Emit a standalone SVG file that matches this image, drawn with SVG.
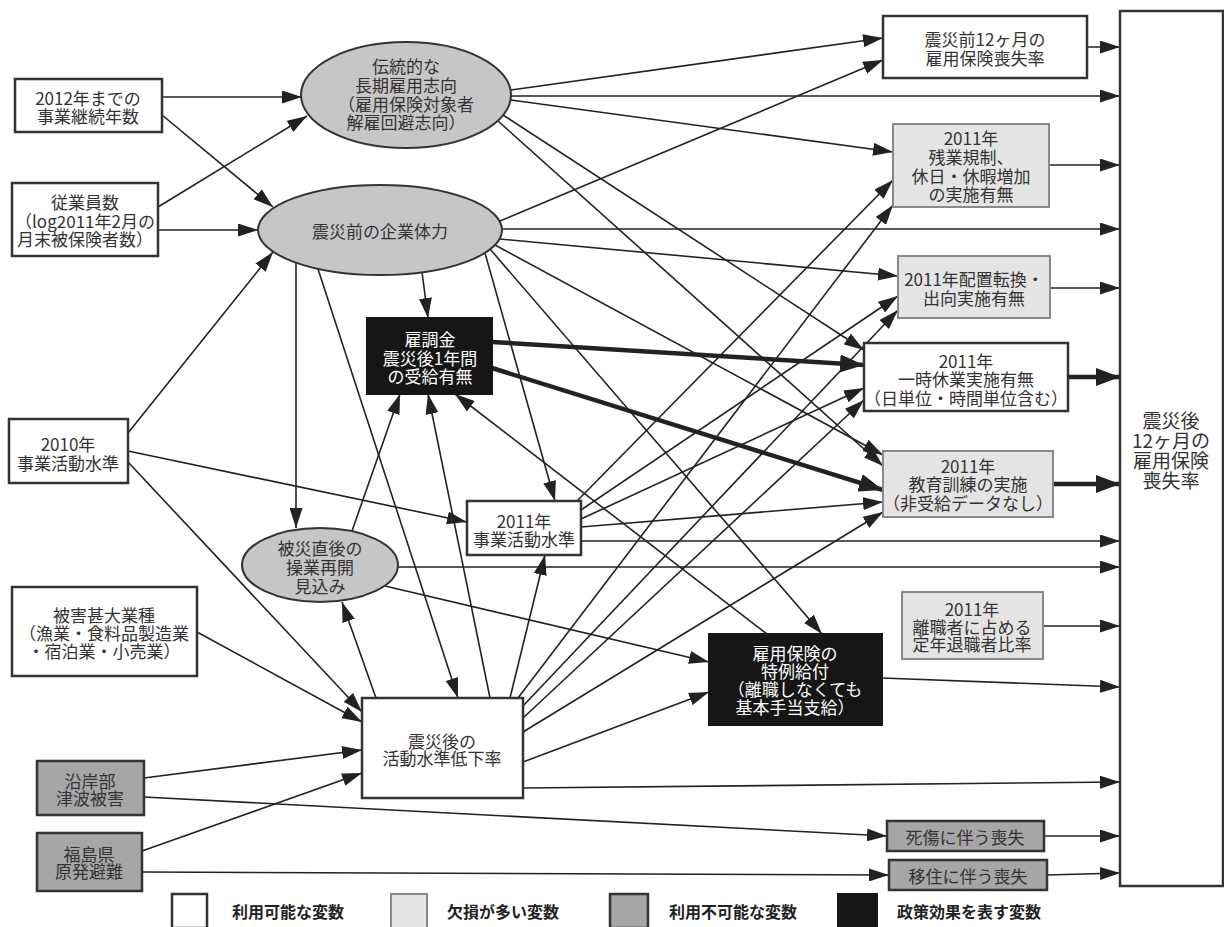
<svg xmlns="http://www.w3.org/2000/svg" width="1224" height="927" viewBox="0 0 1224 927">
<defs>
<marker id="a" markerUnits="userSpaceOnUse" markerWidth="20" markerHeight="13" refX="20" refY="6.5" orient="auto"><path d="M0,0 L20,6.5 L0,13 z" fill="#222"/></marker>
<marker id="b" markerUnits="userSpaceOnUse" markerWidth="24" markerHeight="18" refX="24" refY="9" orient="auto"><path d="M0,0 L24,9 L0,18 z" fill="#222"/></marker>
<style>
text{font-family:"Noto Sans CJK JP","Noto Sans CJK SC",sans-serif;font-size:17px;fill:#333;text-anchor:middle;dominant-baseline:central}
.w{fill:#fff;stroke:#333;stroke-width:2.5}
.l{fill:#e4e4e4;stroke:#8a8a8a;stroke-width:2}
.m{fill:#a6a6a6;stroke:#333;stroke-width:2.5}
.k{fill:#161616;stroke:#161616;stroke-width:2}
.o{fill:#c6c6c6;stroke:#333;stroke-width:2}
text.wt{fill:#fff}
.e line{stroke:#222;stroke-width:1.6;marker-end:url(#a)}
.e line.t{stroke-width:4.5;marker-end:url(#b)}
text.lg{font-weight:bold;font-size:16px;text-anchor:start;fill:#222}
</style>
</defs>
<rect width="1224" height="927" fill="#fff"/>

<g class="e" id="connectors">
<line x1="162" y1="97" x2="302" y2="97"/>
<line x1="162" y1="115" x2="273" y2="207"/>
<line x1="158" y1="207" x2="307" y2="116"/>
<line x1="158" y1="230" x2="258" y2="230"/>
<line x1="128" y1="433" x2="273" y2="252"/>
<line x1="128" y1="451" x2="467" y2="522"/>
<line x1="128" y1="462" x2="362" y2="712"/>
<line x1="197" y1="632" x2="362" y2="722"/>
<line x1="144" y1="778" x2="362" y2="750"/>
<line x1="142" y1="851" x2="362" y2="773"/>
<line x1="144" y1="797" x2="887" y2="836"/>
<line x1="142" y1="872" x2="889" y2="875"/>
<line x1="511" y1="90" x2="883" y2="38"/>
<line x1="511" y1="96" x2="1120" y2="96"/>
<line x1="511" y1="100" x2="893" y2="152"/>
<line x1="503" y1="115" x2="864" y2="350"/>
<line x1="498" y1="121" x2="883" y2="466"/>
<line x1="500" y1="221" x2="883" y2="60"/>
<line x1="502" y1="229" x2="1120" y2="229"/>
<line x1="500" y1="239" x2="898" y2="276"/>
<line x1="495" y1="245" x2="883" y2="455"/>
<line x1="490" y1="249" x2="822" y2="634"/>
<line x1="485" y1="253" x2="555" y2="501"/>
<line x1="422" y1="272" x2="428" y2="318"/>
<line x1="296" y1="263" x2="296" y2="528"/>
<line x1="318" y1="269" x2="458" y2="698"/>
<line x1="352" y1="531" x2="400" y2="394"/>
<line x1="398" y1="567" x2="1120" y2="567"/>
<line x1="385" y1="586" x2="709" y2="662"/>
<line x1="376" y1="698" x2="342" y2="602"/>
<line x1="490" y1="698" x2="428" y2="394"/>
<line x1="510" y1="698" x2="545" y2="555"/>
<line x1="518" y1="698" x2="893" y2="205"/>
<line x1="523" y1="706" x2="898" y2="310"/>
<line x1="523" y1="718" x2="864" y2="400"/>
<line x1="523" y1="732" x2="883" y2="512"/>
<line x1="523" y1="762" x2="709" y2="692"/>
<line x1="523" y1="788" x2="1120" y2="782"/>
<line x1="577" y1="501" x2="893" y2="180"/>
<line x1="581" y1="510" x2="898" y2="296"/>
<line x1="581" y1="519" x2="864" y2="388"/>
<line x1="581" y1="527" x2="883" y2="502"/>
<line x1="581" y1="541" x2="1120" y2="541"/>
<line x1="767" y1="634" x2="455" y2="394"/>
<line x1="882" y1="678" x2="1120" y2="687"/>
<line x1="1087" y1="47" x2="1120" y2="47"/>
<line x1="1049" y1="165" x2="1120" y2="165"/>
<line x1="1050" y1="288" x2="1120" y2="288"/>
<line x1="1043" y1="626" x2="1120" y2="626"/>
<line x1="1044" y1="836" x2="1120" y2="836"/>
<line x1="1047" y1="875" x2="1120" y2="873"/>
<line class="t" x1="492" y1="342" x2="864" y2="365"/>
<line class="t" x1="492" y1="368" x2="883" y2="490"/>
<line class="t" x1="1068" y1="377" x2="1120" y2="377"/>
<line class="t" x1="1053" y1="484" x2="1120" y2="484"/>
</g>

<g id="n_keizoku"><rect class="w" x="15" y="79" width="147" height="53"/><text><tspan x="88" y="97">2012年までの</tspan><tspan x="88" y="115">事業継続年数</tspan></text></g>
<g id="n_jugyoin"><rect class="w" x="12" y="183" width="146" height="73"/><text><tspan x="85" y="201">従業員数</tspan><tspan x="85" y="220">（log2011年2月の</tspan><tspan x="85" y="238">月末被保険者数）</tspan></text></g>
<g id="n_dentou"><ellipse class="o" cx="406" cy="95" rx="105" ry="53"/><text><tspan x="406" y="65">伝統的な</tspan><tspan x="406" y="84">長期雇用志向</tspan><tspan x="406" y="103">（雇用保険対象者</tspan><tspan x="406" y="121">解雇回避志向）</tspan></text></g>
<g id="n_tairyoku"><ellipse class="o" cx="380" cy="230" rx="122" ry="45"/><text x="380" y="230">震災前の企業体力</text></g>
<g id="n_mae12"><rect class="w" x="883" y="16" width="204" height="62"/><text><tspan x="985" y="38">震災前12ヶ月の</tspan><tspan x="985" y="57">雇用保険喪失率</tspan></text></g>
<g id="n_target"><rect class="w" x="1120" y="11" width="103" height="875" stroke-width="2"/><text style="font-size:19px"><tspan x="1171" y="419">震災後</tspan><tspan x="1171" y="439">12ヶ月の</tspan><tspan x="1171" y="459">雇用保険</tspan><tspan x="1171" y="479">喪失率</tspan></text></g>
<g id="n_zangyo"><rect class="l" x="893" y="124" width="156" height="83"/><text><tspan x="971" y="137">2011年</tspan><tspan x="971" y="156">残業規制、</tspan><tspan x="971" y="175">休日・休暇増加</tspan><tspan x="971" y="193">の実施有無</tspan></text></g>
<g id="n_haichi"><rect class="l" x="898" y="256" width="152" height="62"/><text><tspan x="974" y="278">2011年配置転換・</tspan><tspan x="974" y="297">出向実施有無</tspan></text></g>
<g id="n_kyugyo"><rect class="w" x="864" y="343" width="204" height="68"/><text><tspan x="966" y="360">2011年</tspan><tspan x="966" y="378">一時休業実施有無</tspan><tspan x="966" y="397">（日単位・時間単位含む）</tspan></text></g>
<g id="n_kyoiku"><rect class="l" x="883" y="451" width="170" height="66"/><text><tspan x="968" y="465">2011年</tspan><tspan x="968" y="483">教育訓練の実施</tspan><tspan x="968" y="502">（非受給データなし）</tspan></text></g>
<g id="n_teinen"><rect class="l" x="902" y="592" width="141" height="67"/><text><tspan x="972" y="608">2011年</tspan><tspan x="972" y="626">離職者に占める</tspan><tspan x="972" y="643">定年退職者比率</tspan></text></g>
<g id="n_tokurei"><rect class="k" x="709" y="634" width="173" height="91"/><text class="wt"><tspan x="795" y="652">雇用保険の</tspan><tspan x="795" y="670">特例給付</tspan><tspan x="795" y="688">（離職しなくても</tspan><tspan x="795" y="706">基本手当支給）</tspan></text></g>
<g id="n_shisho"><rect class="m" x="887" y="821" width="157" height="30"/><text x="965" y="836">死傷に伴う喪失</text></g>
<g id="n_iju"><rect class="m" x="889" y="860" width="158" height="30"/><text x="968" y="875">移住に伴う喪失</text></g>
<g id="n_koyochosei"><rect class="k" x="367" y="318" width="125" height="76"/><text class="wt"><tspan x="430" y="338">雇調金</tspan><tspan x="430" y="357">震災後1年間</tspan><tspan x="430" y="375">の受給有無</tspan></text></g>
<g id="n_2010"><rect class="w" x="9" y="419" width="119" height="64"/><text><tspan x="68" y="443">2010年</tspan><tspan x="68" y="462">事業活動水準</tspan></text></g>
<g id="n_saikai"><ellipse class="o" cx="320" cy="565" rx="78" ry="37"/><text><tspan x="320" y="547">被災直後の</tspan><tspan x="320" y="566">操業再開</tspan><tspan x="320" y="585">見込み</tspan></text></g>
<g id="n_2011"><rect class="w" x="467" y="501" width="114" height="54"/><text><tspan x="524" y="520">2011年</tspan><tspan x="524" y="538">事業活動水準</tspan></text></g>
<g id="n_higai"><rect class="w" x="12" y="587" width="185" height="89"/><text><tspan x="104" y="614">被害甚大業種</tspan><tspan x="104" y="632">（漁業・食料品製造業</tspan><tspan x="104" y="650">・宿泊業・小売業）</tspan></text></g>
<g id="n_teika"><rect class="w" x="362" y="698" width="161" height="100"/><text><tspan x="442" y="740">震災後の</tspan><tspan x="442" y="757">活動水準低下率</tspan></text></g>
<g id="n_tsunami"><rect class="m" x="37" y="761" width="107" height="54"/><text><tspan x="90" y="780">沿岸部</tspan><tspan x="90" y="797">津波被害</tspan></text></g>
<g id="n_genpatsu"><rect class="m" x="37" y="833" width="105" height="58"/><text><tspan x="89" y="853">福島県</tspan><tspan x="89" y="870">原発避難</tspan></text></g>

<g id="legend">
<rect class="w" x="172" y="894" width="35" height="34"/><text class="lg" x="232" y="911">利用可能な変数</text>
<rect class="l" x="391" y="894" width="36" height="34"/><text class="lg" x="447" y="911">欠損が多い変数</text>
<rect class="m" x="610" y="894" width="38" height="34"/><text class="lg" x="669" y="911">利用不可能な変数</text>
<rect class="k" x="838" y="894" width="39" height="34"/><text class="lg" x="897" y="911">政策効果を表す変数</text>
</g>
</svg>
